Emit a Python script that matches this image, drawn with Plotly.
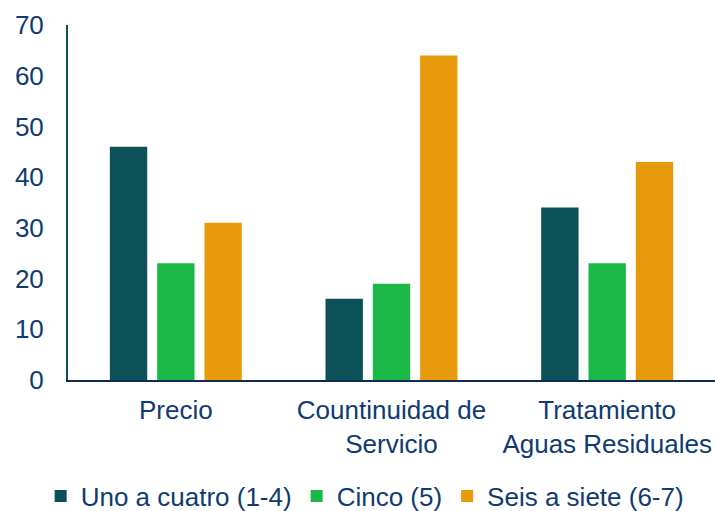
import plotly.graph_objects as go

categories = ["Precio", "Countinuidad de<br>Servicio", "Tratamiento<br>Aguas Residuales"]
series_names = ["Uno a cuatro (1-4)", "Cinco (5)", "Seis a siete (6-7)"]
uno_a_cuatro = [46, 16, 34]
cinco = [23, 19, 23]
seis_a_siete = [31, 64, 43]
colors = ["#0b5157", "#1bb848", "#e79b0c"]

text_color = "#0f3a72"
font_family = "Liberation Sans, Arial, sans-serif"

fig = go.Figure()
for name, vals, col in zip(series_names, [uno_a_cuatro, cinco, seis_a_siete], colors):
    fig.add_trace(go.Bar(x=categories, y=vals, name=name, marker=dict(color=col, line=dict(width=0))))

fig.update_layout(
    width=715, height=511,
    margin=dict(l=68, r=0, t=25, b=131, autoexpand=False),
    plot_bgcolor="white", paper_bgcolor="white",
    barmode="group", bargap=0.342, bargroupgap=0.21,
    font=dict(family=font_family, color=text_color, size=26),
    showlegend=True,
    legend=dict(orientation="h", xref="container", yref="container",
                x=0.51, xanchor="center", y=0.029, yanchor="middle",
                font=dict(size=26, color=text_color), itemwidth=30, traceorder="normal"),
    xaxis=dict(showline=True, linecolor="#0d2a55", linewidth=2, showgrid=False, automargin=False,
               tickfont=dict(size=26, color=text_color), ticks="", ticklabelstandoff=6),
    yaxis=dict(range=[0, 70], dtick=10, showline=True, linecolor="#0b5157", linewidth=2,
               showgrid=False, zeroline=False, ticks="", ticklabelstandoff=17, automargin=False,
               tickfont=dict(size=26, color=text_color)),
)

fig.write_html("out.html", config={"displayModeBar": False},
               post_script="document.body.style.margin='0';document.body.style.overflow='hidden';")
